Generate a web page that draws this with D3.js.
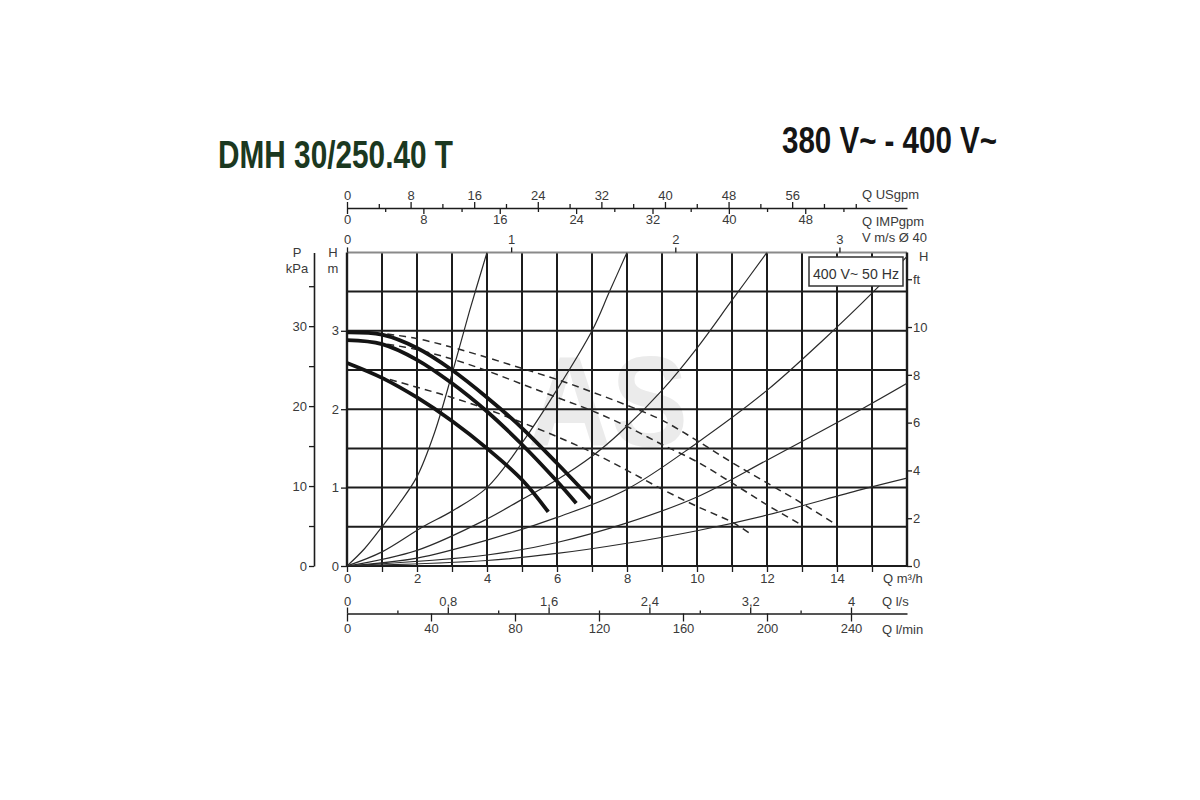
<!DOCTYPE html>
<html><head><meta charset="utf-8">
<script src="https://cdn.jsdelivr.net/npm/d3@7"></script>
<style>
body{margin:0;background:#fff}
text{font-family:"Liberation Sans",Arial,sans-serif}
</style>
</head><body>
<svg id="c" width="1200" height="800"></svg>
<script>
// ---------- text ----------
const titleText = "DMH 30/250.40 T";
const voltageText = "380 V~ - 400 V~";
const legendText = "400 V~ 50 Hz";
const watermarkText = "AS";

// ---------- tick values ----------
const qMajorTicks = [0,2,4,6,8,10,12,14];
const qMinorTicks = [1,3,5,7,9,11,13,15];
const hTicks = [0,1,2,3];
const pMajorTicks = [0,10,20,30];
const pMinorTicks = [5,15,25,35];
const ftTicks = [0,2,4,6,8,10,12];
const vTicks = [0,1,2,3];
const usMajorTicks = [0,8,16,24,32,40,48,56];
const usMinorTicks = [4,12,20,28,36,44,52,60,64];
const impMajorTicks = [0,8,16,24,32,40,48];
const impMinorTicks = [4,12,20,28,36,44,52];
const lsMajorTicks = [0,0.8,1.6,2.4,3.2,4];
const lsMinorTicks = [0.4,1.2,2.0,2.8,3.6];
const lminTicks = [0,40,80,120,160,200,240];

// ---------- curves [Q m3/h, H m] ----------
const pumpHigh = [[0,2.98],[1,2.95],[2,2.78],[3,2.5],[4,2.15],[5,1.76],[6,1.31],[6.96,0.86]];
const pumpMid  = [[0,2.88],[1,2.83],[2,2.63],[3,2.33],[4,1.97],[5,1.55],[6,1.08],[6.55,0.8]];
const pumpLow  = [[0,2.59],[1,2.4],[2,2.15],[3,1.85],[4,1.5],[5,1.1],[5.75,0.69]];

const dashHigh = [[1.15,2.96],[2,2.9],[3,2.79],[4,2.66],[5,2.52],[6,2.38],[7,2.22],[8,2.05],[9,1.86],[10,1.6],[11,1.32],[12,1.06],[13,0.8],[14,0.52]];
const dashMid  = [[1.15,2.83],[2,2.76],[3,2.64],[4,2.49],[5,2.32],[6,2.15],[7,1.98],[8,1.78],[9,1.55],[10,1.33],[11,1.06],[12,0.78],[13,0.52]];
const dashLow  = [[0.9,2.42],[2,2.28],[3,2.15],[4,2.0],[5,1.83],[6,1.65],[7,1.45],[8,1.22],[9,0.98],[10,0.76],[11,0.56],[11.5,0.42]];

const system1 = [[0,0],[0.5,0.22],[1,0.5],[1.5,0.8],[2,1.14],[2.5,1.7],[3,2.45],[3.5,3.25],[4,4.0]];
const system2 = [[0,0],[1,0.18],[2.17,0.5],[3,0.7],[4,1.0],[5,1.57],[6,2.25],[7,3.0],[7.5,3.5],[8,4.0]];
const system3 = [[0,0],[2,0.2],[4,0.6],[5,0.85],[6,1.1],[7,1.4],[7.8,1.7],[9,2.24],[10,2.78],[11,3.39],[12,4.0]];
const system4 = [[0,0],[2,0.1],[4,0.33],[6,0.62],[8,0.98],[10,1.57],[12,2.24],[13.6,2.88],[15,3.48],[16,3.95]];
const system5 = [[0,0],[4,0.14],[6,0.3],[8,0.55],[10,0.88],[12,1.35],[14.66,1.99],[16,2.33]];
const system6 = [[0,0],[4,0.07],[6,0.16],[8,0.29],[10,0.45],[12,0.65],[14.66,0.97],[16,1.12]];

// ---------- unit conversions ----------
const Q_MAX = 16, H_MAX = 4;
const KPA_PER_M = 9.807, FT_PER_M = 1/0.3048;
const USGPM_PER_M3H = 4.4029, IMPGPM_PER_M3H = 3.6662;
const LS_PER_M3H = 1/3.6, LMIN_PER_M3H = 1000/60;
const M3H_PER_MS = 4.69; // velocity in DN40 pipe

// ---------- layout ----------
const svg = d3.select("#c");
const L = 347, R = 907, B = 566, T = 252.4;
const x = d3.scaleLinear().domain([0,Q_MAX]).range([L,R]);
const y = d3.scaleLinear().domain([0,H_MAX]).range([B,T]);
const ink = "#1c1c1c", txt = "#3a3a3a";
const intFmt = d3.format("d");

// titles
svg.append("text").attr("x",218).attr("y",168).text(titleText)
  .attr("font-size",38).attr("font-weight","bold").attr("fill","#1b3820")
  .attr("textLength",235).attr("lengthAdjust","spacingAndGlyphs")
  .style("font-family","'Liberation Sans Narrow','Liberation Sans',sans-serif");
svg.append("text").attr("x",782).attr("y",153).text(voltageText)
  .attr("font-size",36).attr("font-weight","bold").attr("fill","#151515")
  .attr("textLength",215).attr("lengthAdjust","spacingAndGlyphs")
  .style("font-family","'Liberation Sans Narrow','Liberation Sans',sans-serif");

// watermark
svg.append("text").attr("x",528).attr("y",446).text(watermarkText)
  .attr("font-size",128).attr("font-weight","bold").attr("fill","#ebebeb")
  .attr("textLength",160).attr("lengthAdjust","spacingAndGlyphs");

// grid
const grid = svg.append("g").attr("stroke",ink).attr("stroke-width",2);
grid.selectAll("line.v").data(d3.range(1,Q_MAX)).join("line")
  .attr("x1",d=>x(d)).attr("x2",d=>x(d)).attr("y1",T).attr("y2",B);
grid.selectAll("line.h").data(d3.range(0.5,H_MAX,0.5)).join("line").attr("class","h")
  .attr("x1",L).attr("x2",R).attr("y1",d=>y(d)).attr("y2",d=>y(d));
// border
svg.append("line").attr("x1",L).attr("x2",R).attr("y1",T).attr("y2",T).attr("stroke","#8a8a8a").attr("stroke-width",2);
svg.append("line").attr("x1",L).attr("x2",R).attr("y1",B).attr("y2",B).attr("stroke",ink).attr("stroke-width",2);
svg.append("line").attr("x1",L).attr("x2",L).attr("y1",T).attr("y2",B).attr("stroke",ink).attr("stroke-width",2.4);
svg.append("line").attr("x1",R).attr("x2",R).attr("y1",T).attr("y2",B).attr("stroke",ink).attr("stroke-width",2.4);

// clip
svg.append("clipPath").attr("id","plot").append("rect").attr("x",L).attr("y",T).attr("width",R-L).attr("height",B-T);
const plot = svg.append("g").attr("clip-path","url(#plot)");
const line = d3.line().x(d=>x(d[0])).y(d=>y(d[1])).curve(d3.curveCatmullRom.alpha(0.5));

[system1,system2,system3,system4,system5,system6].forEach(s=>{
  plot.append("path").attr("d",line(s)).attr("fill","none").attr("stroke","#2a2a2a").attr("stroke-width",1.2);
});
[dashHigh,dashMid,dashLow].forEach(s=>{
  plot.append("path").attr("d",line(s)).attr("fill","none").attr("stroke","#2a2a2a")
    .attr("stroke-width",1.5).attr("stroke-dasharray","7,5");
});
[pumpHigh,pumpMid,pumpLow].forEach(s=>{
  plot.append("path").attr("d",line(s)).attr("fill","none").attr("stroke","#141414")
    .attr("stroke-width",3.8).attr("stroke-linecap","butt");
});

// legend box
svg.append("rect").attr("x",809).attr("y",257).attr("width",94).attr("height",29)
  .attr("fill","#fff").attr("stroke","#333").attr("stroke-width",1.5);
svg.append("text").attr("x",856).attr("y",278.5).attr("text-anchor","middle").text(legendText)
  .attr("font-size",15).attr("fill","#333").attr("textLength",86).attr("lengthAdjust","spacingAndGlyphs");

// axis styling helper
function style(g, fs){
  g.selectAll("text").attr("font-size",fs||13).attr("fill",txt)
   .style("font-family","'Liberation Sans',Arial,sans-serif");
  g.selectAll("line").attr("stroke",ink).attr("stroke-width",1.3);
  g.selectAll("path.domain").attr("stroke",ink).attr("stroke-width",1.6);
  return g;
}
const comma = d => String(d).replace(".",",");

// main Q axis (bottom)
style(svg.append("g").attr("transform",`translate(0,${B})`)
  .call(d3.axisBottom(x).tickValues(qMajorTicks).tickSize(6).tickPadding(2).tickSizeOuter(0))
  .call(g=>g.select(".domain").remove()));
style(svg.append("g").attr("transform",`translate(0,${B})`)
  .call(d3.axisBottom(x).tickValues(qMinorTicks).tickSize(6).tickFormat("")).call(g=>g.select(".domain").remove()));

// H m axis (left of plot)
style(svg.append("g").attr("transform",`translate(${L},0)`)
  .call(d3.axisLeft(y).tickValues(hTicks).tickSize(6).tickPadding(2).tickFormat(intFmt)).call(g=>g.select(".domain").remove()));

// P kPa axis
const pScale = d3.scaleLinear().domain([0,H_MAX*KPA_PER_M]).range([B,T]);
style(svg.append("g").attr("transform","translate(314,0)")
  .call(d3.axisLeft(pScale).tickValues(pMajorTicks).tickSize(5).tickPadding(2).tickSizeOuter(0)));
style(svg.append("g").attr("transform","translate(314,0)")
  .call(d3.axisLeft(pScale).tickValues(pMinorTicks).tickSize(5).tickFormat("")).call(g=>g.select(".domain").remove()));

// H ft axis (right)
const ftScale = d3.scaleLinear().domain([0,H_MAX*FT_PER_M]).range([B,T]);
style(svg.append("g").attr("transform",`translate(${R},0)`)
  .call(d3.axisRight(ftScale).tickValues(ftTicks).tickSize(5).tickPadding(1)
    .tickFormat(d=>d===12?"ft":d)).call(g=>g.select(".domain").remove())
  .call(g=>g.selectAll(".tick").filter(d=>d===0).select("text").attr("dy","0.1em")));

// V m/s axis (top of plot)
const vScale = d3.scaleLinear().domain([0,Q_MAX/M3H_PER_MS]).range([L,R]);
style(svg.append("g").attr("transform",`translate(0,${T})`)
  .call(d3.axisTop(vScale).tickValues(vTicks).tickSize(5).tickPadding(3).tickFormat(intFmt)).call(g=>g.select(".domain").remove()));

// US / IMP gpm shared line
const AY = 208;
const usScale = d3.scaleLinear().domain([0,Q_MAX*USGPM_PER_M3H]).range([L,R]);
const impScale = d3.scaleLinear().domain([0,Q_MAX*IMPGPM_PER_M3H]).range([L,R]);
style(svg.append("g").attr("transform",`translate(0,${AY})`)
  .call(d3.axisTop(usScale).tickValues(usMajorTicks).tickSize(6).tickPadding(2).tickSizeOuter(0)));
style(svg.append("g").attr("transform",`translate(0,${AY})`)
  .call(d3.axisTop(usScale).tickValues(usMinorTicks).tickSize(4).tickFormat("")).call(g=>g.select(".domain").remove()));
style(svg.append("g").attr("transform",`translate(0,${AY})`)
  .call(d3.axisBottom(impScale).tickValues(impMajorTicks).tickSize(6).tickPadding(1)).call(g=>g.select(".domain").remove()));
style(svg.append("g").attr("transform",`translate(0,${AY})`)
  .call(d3.axisBottom(impScale).tickValues(impMinorTicks).tickSize(4).tickFormat("")).call(g=>g.select(".domain").remove()));

// l/s and l/min shared line
const BY = 613.5;
const lsScale = d3.scaleLinear().domain([0,Q_MAX*LS_PER_M3H]).range([L,R]);
const lminScale = d3.scaleLinear().domain([0,Q_MAX*LMIN_PER_M3H]).range([L,R]);
style(svg.append("g").attr("transform",`translate(0,${BY})`)
  .call(d3.axisTop(lsScale).tickValues(lsMajorTicks).tickSize(6).tickPadding(2).tickFormat(comma).tickSizeOuter(0)));
style(svg.append("g").attr("transform",`translate(0,${BY})`)
  .call(d3.axisTop(lsScale).tickValues(lsMinorTicks).tickSize(3).tickFormat("")).call(g=>g.select(".domain").remove()));
style(svg.append("g").attr("transform",`translate(0,${BY})`)
  .call(d3.axisBottom(lminScale).tickValues(lminTicks).tickSize(8).tickPadding(2)).call(g=>g.select(".domain").remove()));

// unit labels
const unitLabels = [
  ["Q USgpm",862,199],["Q IMPgpm",862,226],["V m/s Ø 40",862,242],
  ["Q m³/h",883,583],["Q l/s",882,606],["Q l/min",882,634],
  ["P",297,257],["kPa",297,273],["H",333,257],["m",333,273],["H",919,261]
];
svg.append("g").selectAll("text").data(unitLabels).join("text")
  .attr("x",d=>d[1]).attr("y",d=>d[2]).text(d=>d[0])
  .attr("font-size",13).attr("fill",txt)
  .attr("text-anchor",d=>["P","kPa","H","m"].includes(d[0])&&d[1]<400?"middle":"start");
</script>
</body></html>
